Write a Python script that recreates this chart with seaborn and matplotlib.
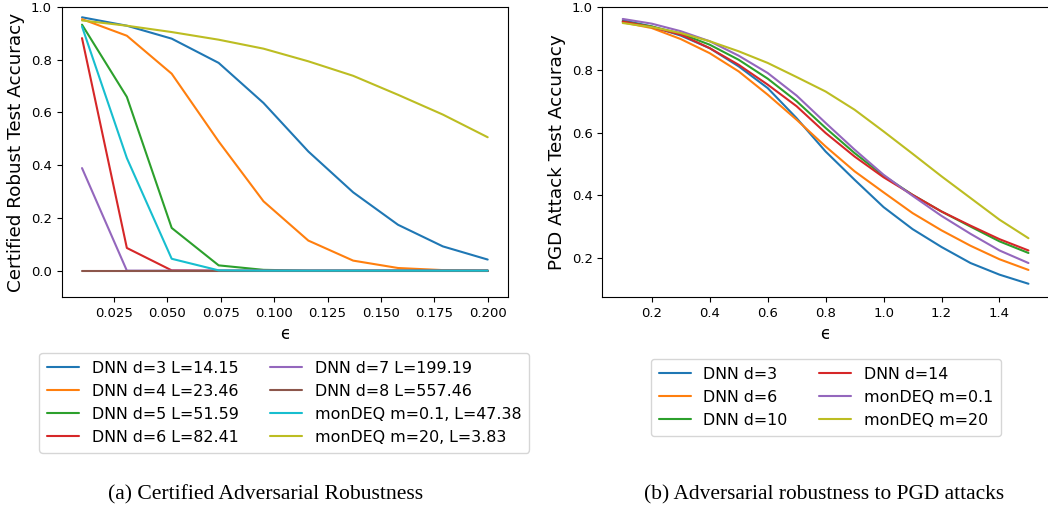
import numpy as np
import pandas as pd
import matplotlib
matplotlib.use("Agg")
import matplotlib.pyplot as plt
import seaborn as sns

# ---- certified robustness (left panel) ----
cert_eps = [0.010, 0.031, 0.052, 0.074, 0.095, 0.116, 0.137, 0.158, 0.179, 0.200]
cert_labels = [
    "DNN d=3 L=14.15", "DNN d=4 L=23.46", "DNN d=5 L=51.59", "DNN d=6 L=82.41",
    "DNN d=7 L=199.19", "DNN d=8 L=557.46", "monDEQ m=0.1, L=47.38", "monDEQ m=20, L=3.83",
]
cert_d3 = [0.961, 0.929, 0.880, 0.788, 0.636, 0.452, 0.297, 0.174, 0.092, 0.042]
cert_d4 = [0.954, 0.891, 0.747, 0.490, 0.263, 0.114, 0.038, 0.010, 0.002, 0.000]
cert_d5 = [0.933, 0.659, 0.162, 0.020, 0.003, 0.000, 0.000, 0.000, 0.000, 0.000]
cert_d6 = [0.882, 0.086, 0.001, 0.000, 0.000, 0.000, 0.000, 0.000, 0.000, 0.000]
cert_d7 = [0.389, 0.000, 0.000, 0.000, 0.000, 0.000, 0.000, 0.000, 0.000, 0.000]
cert_d8 = [0.000, 0.000, 0.000, 0.000, 0.000, 0.000, 0.000, 0.000, 0.000, 0.000]
cert_m01 = [0.926, 0.427, 0.045, 0.001, 0.000, 0.000, 0.000, 0.000, 0.000, 0.000]
cert_m20 = [0.949, 0.929, 0.905, 0.876, 0.842, 0.794, 0.739, 0.667, 0.592, 0.506]
cert_series = [cert_d3, cert_d4, cert_d5, cert_d6, cert_d7, cert_d8, cert_m01, cert_m20]

# ---- PGD attack accuracy (right panel) ----
pgd_eps = [0.1, 0.2, 0.3, 0.4, 0.5, 0.6, 0.7, 0.8, 0.9, 1.0, 1.1, 1.2, 1.3, 1.4, 1.5]
pgd_labels = ["DNN d=3", "DNN d=6", "DNN d=10", "DNN d=14", "monDEQ m=0.1", "monDEQ m=20"]
pgd_d3 = [0.958, 0.938, 0.909, 0.869, 0.811, 0.742, 0.646, 0.540, 0.450, 0.363,
          0.293, 0.236, 0.185, 0.148, 0.119]
pgd_d6 = [0.951, 0.933, 0.898, 0.853, 0.795, 0.721, 0.641, 0.556, 0.477, 0.410,
          0.344, 0.289, 0.240, 0.197, 0.163]
pgd_d10 = [0.954, 0.938, 0.915, 0.880, 0.832, 0.772, 0.700, 0.615, 0.535, 0.463,
           0.402, 0.349, 0.301, 0.254, 0.217]
pgd_d14 = [0.954, 0.936, 0.912, 0.869, 0.816, 0.753, 0.684, 0.599, 0.524, 0.458,
           0.402, 0.349, 0.304, 0.261, 0.225]
pgd_m01 = [0.962, 0.947, 0.923, 0.891, 0.845, 0.790, 0.718, 0.631, 0.546, 0.466,
           0.399, 0.335, 0.278, 0.225, 0.185]
pgd_m20 = [0.949, 0.936, 0.917, 0.891, 0.859, 0.822, 0.777, 0.731, 0.673, 0.604,
           0.533, 0.461, 0.392, 0.323, 0.264]
pgd_series = [pgd_d3, pgd_d6, pgd_d10, pgd_d14, pgd_m01, pgd_m20]

sns.set_style("ticks", rc={
    "axes.edgecolor": "black", "xtick.color": "black", "ytick.color": "black",
    "text.color": "black", "axes.labelcolor": "black",
})
plt.rcParams["font.family"] = ["DejaVu Sans"]

tab = sns.color_palette("tab10")
cert_palette = [tab[0], tab[1], tab[2], tab[3], tab[4], tab[5], tab[9], tab[8]]
pgd_palette = [tab[0], tab[1], tab[2], tab[3], tab[4], tab[8]]


def long_frame(xs, labels, series):
    rows = []
    for lab, ys in zip(labels, series):
        for x, y in zip(xs, ys):
            rows.append({"eps": x, "acc": y, "model": lab})
    return pd.DataFrame(rows)


cert_df = long_frame(cert_eps, cert_labels, cert_series)
pgd_df = long_frame(pgd_eps, pgd_labels, pgd_series)

fig = plt.figure(figsize=(10.48, 5.15), dpi=100)
ax1 = fig.add_axes([0.0589, 0.4233, 0.4258, 0.5631])
ax2 = fig.add_axes([0.5749, 0.4233, 0.4258, 0.5631])

tick_fs = 9.5
leg_fs = 11.4
leg_kw = dict(ncol=2, title=None, frameon=True, fontsize=leg_fs,
              labelspacing=0.5, borderpad=0.5, borderaxespad=0.0)

sns.lineplot(data=cert_df, x="eps", y="acc", hue="model", hue_order=cert_labels,
             palette=cert_palette, ax=ax1, linewidth=1.5)
ax1.set_ylim(-0.1, 1.0)
ax1.set_xlabel("\u03f5", fontsize=12)
ax1.set_ylabel("Certified Robust Test Accuracy", fontsize=13.2)
ax1.tick_params(labelsize=tick_fs, length=3.5, width=0.8)
sns.move_legend(ax1, "upper left", bbox_to_anchor=(-0.050, -0.193), **leg_kw)

sns.lineplot(data=pgd_df, x="eps", y="acc", hue="model", hue_order=pgd_labels,
             palette=pgd_palette, ax=ax2, linewidth=1.5)
ax2.set_ylim(top=1.0)
ax2.set_xlabel("\u03f5", fontsize=12)
ax2.set_ylabel("PGD Attack Test Accuracy", fontsize=13.2)
ax2.tick_params(labelsize=tick_fs, length=3.5, width=0.8)
sns.move_legend(ax2, "upper left", bbox_to_anchor=(0.109, -0.214), **leg_kw)

for ax in (ax1, ax2):
    for s in ax.spines.values():
        s.set_linewidth(0.8)
        s.set_visible(True)

fig.text(266 / 1048, 1 - 495 / 515, "(a) Certified Adversarial Robustness",
         ha="center", va="center", fontsize=15.6, family="Liberation Serif")
fig.text(824 / 1048, 1 - 495 / 515, "(b) Adversarial robustness to PGD attacks",
         ha="center", va="center", fontsize=15.4, family="Liberation Serif")

fig.savefig("out.png", dpi=100)
